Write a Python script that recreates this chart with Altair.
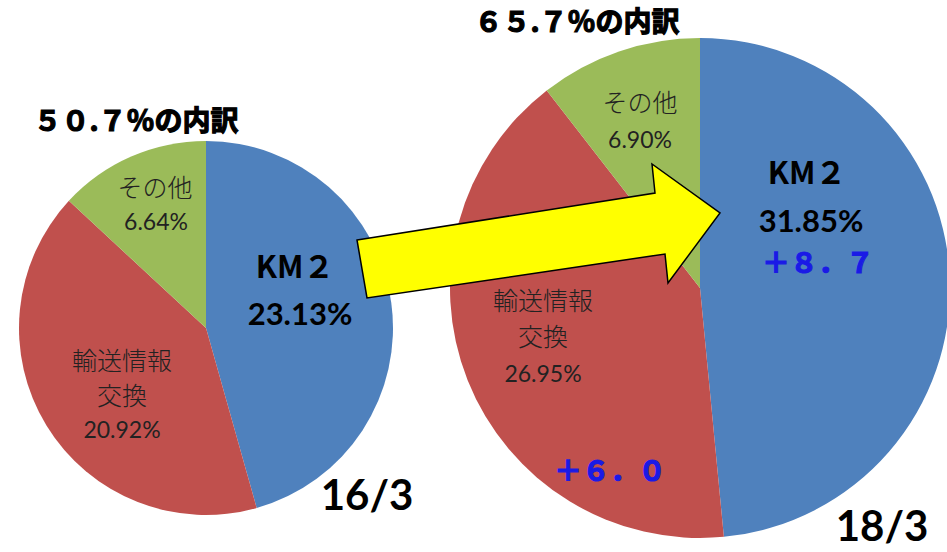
import altair as alt
import pandas as pd

# ---- data ----
categories = ["KM２", "輸送情報交換", "その他"]
label_lines = [["KM２"], ["輸送情報", "交換"], ["その他"]]
values_16 = [23.13, 20.92, 6.64]
values_18 = [31.85, 26.95, 6.90]
totals = ["５０.７", "６５.７"]
dates = ["16/3", "18/3"]
diffs = ["＋８．７", "＋６．０"]          # change for KM２, 輸送情報交換
colors = ["#4F81BD", "#C0504D", "#9BBB59"]

# ---- layout (pixels) ----
pies = [dict(cx=206, cy=328, r=187), dict(cx=700, cy=288, r=250)]
pos = [
    dict(km=(295, 269), kmpct=(300, 316),
         names=[None, [(122, 362), (122, 397)], [(155, 189)]],
         pcts=[None, (122, 431), (156, 223)],
         diffs=None, title=(136, 123), date=(367, 497)),
    dict(km=(807, 175), kmpct=(811, 223),
         names=[None, [(543, 302), (543, 338)], [(640, 104)]],
         pcts=[None, (543, 375), (640, 141)],
         diffs=[(818, 265), (610, 473)], title=(577, 24), date=(882, 528)),
]
arrow_pts = [(357, 240), (655, 193), (652, 164), (720, 213),
             (668, 283), (665, 254), (367, 298), (357, 240)]

JP = "Noto Sans CJK JP"
NUM = "Lato"

layers = []
for i, vals in enumerate([values_16, values_18]):
    df = pd.DataFrame({"category": categories, "value": vals,
                       "order": list(range(len(categories)))})
    p = pies[i]
    layers.append(
        alt.Chart(df).mark_arc(outerRadius=p["r"]).encode(
            theta=alt.Theta("value:Q", stack=True),
            color=alt.Color("category:N",
                            scale=alt.Scale(domain=categories, range=colors),
                            legend=None),
            order=alt.Order("order:Q"),
            x=alt.value(p["cx"]), y=alt.value(p["cy"]),
        )
    )

pie_layer = alt.layer(*layers).resolve_scale(theta="independent")

# arrow
feature = {"type": "Feature", "properties": {},
           "geometry": {"type": "Polygon",
                        "coordinates": [[list(pt) for pt in arrow_pts]]}}
arrow = alt.Chart(alt.Data(values=[feature])).mark_geoshape(
    fill="#FFFF00", stroke="#000000", strokeWidth=1.5
).project(type="identity", scale=1, translate=[0, 0])

# text rows by style
rows = {k: [] for k in ["name", "pct", "km", "kmpct", "diff", "title", "date"]}
for i, vals in enumerate([values_16, values_18]):
    P = pos[i]
    rows["km"].append((label_lines[0][0], *P["km"]))
    rows["kmpct"].append((f"{vals[0]:.2f}%", *P["kmpct"]))
    for c in (1, 2):
        for line, xy in zip(label_lines[c], P["names"][c]):
            rows["name"].append((line, *xy))
        rows["pct"].append((f"{vals[c]:.2f}%", *P["pcts"][c]))
    if P["diffs"]:
        for d, xy in zip(diffs, P["diffs"]):
            rows["diff"].append((d, *xy))
    rows["title"].append((f"{totals[i]}％の内訳", *P["title"]))
    rows["date"].append((dates[i], *P["date"]))

styles = {
    "name": dict(font=JP, fontSize=25, fontWeight=300, color="#222222"),
    "pct": dict(font=NUM, fontSize=23, fontWeight="normal", color="#222222"),
    "km": dict(font=JP, fontSize=31, fontWeight="bold", color="#000000"),
    "kmpct": dict(font=NUM, fontSize=31, fontWeight="bold", color="#000000"),
    "diff": dict(font=JP, fontSize=28, fontWeight="bold", color="#1A1AE6",
                 stroke="#1A1AE6", strokeWidth=1.2),
    "title": dict(font=JP, fontSize=28, fontWeight="bold", color="#000000",
                  stroke="#000000", strokeWidth=1.2),
    "date": dict(font=NUM, fontSize=42, fontWeight="bold", color="#000000"),
}

text_layers = []
for k, r in rows.items():
    tdf = pd.DataFrame(r, columns=["text", "x", "y"])
    s = dict(styles[k])
    text_layers.append(
        alt.Chart(tdf).mark_text(align="center", baseline="middle", **s).encode(
            x=alt.X("x:Q", scale=None, axis=None),
            y=alt.Y("y:Q", scale=None, axis=None),
            text="text:N",
        )
    )

chart = alt.layer(pie_layer, arrow, *text_layers).properties(
    width=947, height=552, padding=0, autosize="none", background="white"
).configure_view(stroke=None)

chart.save("out.html", embed_options={"renderer": "svg", "actions": False})
